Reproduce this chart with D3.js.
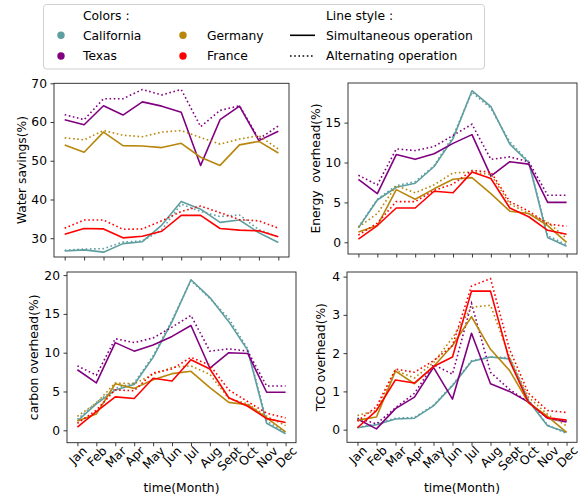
<!DOCTYPE html>
<html>
<head>
<meta charset="utf-8">
<script src="https://cdn.jsdelivr.net/npm/d3@7"></script>
<style>
  body { margin: 0; background: #fff; }
  text { font-family: "DejaVu Sans", sans-serif; fill: #000; }
</style>
</head>
<body>
<svg id="chart" width="581" height="499"></svg>
<script>
// Month labels (x axis, bottom row only)
const months = ["Jan", "Feb", "Mar", "Apr", "May", "Jun", "Jul", "Aug", "Sept", "Oct", "Nov", "Dec"];

// Regions and their colours
const regions = ["California", "Texas", "Germany", "France"];
const regionColors = ["#5F9EA0", "#800080", "#B8860B", "#FF0000"];

// Water savings (%) — simultaneous operation
const waterSimCalifornia = [26.7, 27.0, 26.4, 28.6, 29.1, 33.4, 39.5, 37.5, 34.1, 34.7, 31.4, 28.9];
const waterSimTexas      = [60.6, 59.3, 64.2, 61.8, 65.2, 64.1, 62.5, 48.8, 60.6, 64.1, 55.2, 57.6];
const waterSimGermany    = [54.1, 52.2, 57.4, 53.9, 53.8, 53.4, 54.5, 50.9, 48.8, 54.1, 55.0, 52.0];
const waterSimFrance     = [31.0, 32.5, 32.4, 30.1, 30.5, 31.8, 35.9, 35.9, 32.5, 32.1, 31.9, 30.4];
// Water savings (%) — alternating operation
const waterAltCalifornia = [26.9, 27.2, 27.3, 29.0, 29.3, 32.2, 38.8, 36.9, 35.6, 36.0, 32.2, 30.3];
const waterAltTexas      = [61.9, 60.6, 66.0, 66.0, 68.4, 67.0, 68.4, 58.8, 63.0, 64.2, 55.6, 59.0];
const waterAltGermany    = [55.9, 55.4, 57.8, 56.6, 56.2, 57.4, 57.8, 56.0, 54.3, 55.6, 56.5, 53.0];
const waterAltFrance     = [32.6, 34.7, 34.7, 32.3, 32.4, 34.5, 36.9, 38.3, 36.6, 34.8, 34.5, 32.6];

// Energy overhead (%) — simultaneous operation
const energySimCalifornia = [1.8, 5.3, 6.9, 7.4, 9.5, 13.0, 19.0, 17.0, 12.3, 10.0, 0.6, -0.5];
const energySimTexas      = [7.9, 6.1, 11.0, 10.4, 11.1, 12.4, 13.5, 8.3, 10.1, 9.8, 5.0, 5.0];
const energySimGermany    = [1.3, 2.1, 6.6, 5.4, 6.7, 7.9, 8.1, 6.1, 3.9, 3.6, 2.1, 0.0];
const energySimFrance     = [0.4, 2.1, 4.3, 4.3, 6.4, 6.2, 8.8, 8.0, 4.3, 3.2, 1.5, 1.0];
// Energy overhead (%) — alternating operation
const energyAltCalifornia = [1.9, 5.4, 7.1, 7.6, 9.6, 13.3, 18.8, 16.8, 12.6, 10.1, 0.8, -0.3];
const energyAltTexas      = [8.4, 7.2, 11.7, 11.5, 12.0, 13.4, 14.8, 10.4, 10.7, 10.1, 5.9, 5.9];
const energyAltGermany    = [1.9, 3.6, 7.1, 6.2, 7.2, 8.7, 8.8, 8.5, 4.8, 3.6, 2.5, 0.5];
const energyAltFrance     = [0.9, 2.4, 5.1, 5.1, 6.5, 7.3, 9.0, 8.8, 5.1, 3.9, 2.3, 2.0];

// Carbon overhead (%) — simultaneous operation
const carbonSimCalifornia = [1.2, 3.4, 5.2, 5.9, 9.4, 14.0, 19.4, 17.1, 14.0, 10.3, 0.9, -0.45];
const carbonSimTexas      = [7.8, 6.1, 11.3, 10.2, 11.0, 12.1, 13.5, 8.0, 10.0, 9.9, 4.9, 4.9];
const carbonSimGermany    = [1.2, 2.1, 6.0, 5.4, 6.5, 7.3, 7.6, 5.5, 3.6, 3.3, 1.6, -0.2];
const carbonSimFrance     = [0.4, 2.4, 4.3, 4.1, 6.7, 6.35, 9.1, 7.9, 4.2, 3.1, 1.5, 1.0];
// Carbon overhead (%) — alternating operation
const carbonAltCalifornia = [1.4, 3.6, 5.4, 6.1, 9.6, 14.2, 19.3, 17.0, 14.4, 10.5, 1.2, -0.3];
const carbonAltTexas      = [8.3, 7.1, 11.8, 11.3, 11.9, 13.3, 14.8, 10.2, 10.5, 10.2, 5.7, 5.7];
const carbonAltGermany    = [1.8, 3.5, 6.1, 6.0, 7.2, 8.1, 8.3, 7.2, 4.1, 3.4, 1.8, 0.6];
const carbonAltFrance     = [0.9, 2.6, 5.2, 5.1, 7.4, 7.9, 9.4, 8.4, 5.2, 3.7, 2.2, 1.6];

// TCO overhead (%) — simultaneous operation
const tcoSimCalifornia = [0.05, 0.13, 0.28, 0.30, 0.62, 1.15, 1.78, 1.90, 1.85, 0.75, 0.10, -0.07];
const tcoSimTexas      = [0.28, 0.02, 0.55, 0.85, 1.63, 0.80, 2.52, 1.20, 1.00, 0.72, 0.30, 0.20];
const tcoSimGermany    = [0.25, 0.33, 1.53, 1.20, 1.65, 2.20, 2.95, 2.10, 1.55, 0.70, 0.35, -0.07];
const tcoSimFrance     = [0.05, 0.50, 1.30, 1.22, 1.65, 1.90, 3.62, 3.62, 1.80, 0.71, 0.31, 0.25];
// TCO overhead (%) — alternating operation
const tcoAltCalifornia = [0.06, 0.15, 0.30, 0.32, 0.64, 1.17, 1.80, 1.90, 1.88, 0.78, 0.12, -0.10];
const tcoAltTexas      = [0.30, 0.15, 0.57, 0.95, 1.70, 1.45, 3.30, 1.50, 1.05, 0.72, 0.30, 0.23];
const tcoAltGermany    = [0.37, 0.50, 1.55, 1.35, 1.75, 2.40, 3.20, 3.25, 1.90, 0.85, 0.40, 0.10];
const tcoAltFrance     = [0.22, 0.60, 1.58, 1.50, 1.80, 2.20, 3.75, 3.95, 2.10, 0.95, 0.50, 0.45];

// Y tick values per panel
const waterTicks  = [30, 40, 50, 60, 70];
const energyTicks = [0, 5, 10, 15];
const carbonTicks = [0, 5, 10, 15, 20];
const tcoTicks    = [0, 1, 2, 3, 4];

const FONT = 12.3;
const svg = d3.select("#chart");

const panels = [
  { title: "Water savings(%)", ticks: waterTicks, yDomain: [25.15, 70.0],
    sim: [waterSimCalifornia, waterSimTexas, waterSimGermany, waterSimFrance],
    alt: [waterAltCalifornia, waterAltTexas, waterAltGermany, waterAltFrance],
    box: { l: 54, r: 289, t: 83.3, b: 257 }, labelX: 21.7, showMonths: false },
  { title: "Energy  overhead(%)", ticks: energyTicks, yDomain: [-1.47, 19.97],
    sim: [energySimCalifornia, energySimTexas, energySimGermany, energySimFrance],
    alt: [energyAltCalifornia, energyAltTexas, energyAltGermany, energyAltFrance],
    box: { l: 348, r: 577, t: 83, b: 254 }, labelX: 315.5, showMonths: false },
  { title: "carbon overhead(%)", ticks: carbonTicks, yDomain: [-1.6, 20.4],
    sim: [carbonSimCalifornia, carbonSimTexas, carbonSimGermany, carbonSimFrance],
    alt: [carbonAltCalifornia, carbonAltTexas, carbonAltGermany, carbonAltFrance],
    box: { l: 67, r: 296, t: 272, b: 442.7 }, labelX: 34, showMonths: true },
  { title: "TCO overhead(%)", ticks: tcoTicks, yDomain: [-0.33, 4.12],
    sim: [tcoSimCalifornia, tcoSimTexas, tcoSimGermany, tcoSimFrance],
    alt: [tcoAltCalifornia, tcoAltTexas, tcoAltGermany, tcoAltFrance],
    box: { l: 347, r: 577, t: 272, b: 442.3 }, labelX: 320.5, showMonths: true }
];

panels.forEach(p => {
  const { l, r, t, b } = p.box;
  const x = d3.scaleLinear().domain([-0.55, months.length - 1 + 0.55]).range([l, r]);
  const y = d3.scaleLinear().domain(p.yDomain).range([b, t]);
  const g = svg.append("g");

  // series lines: solid = simultaneous, dotted = alternating
  const line = d3.line().x((d, i) => x(i)).y(d => y(d));
  regions.forEach((name, k) => {
    g.append("path").datum(p.sim[k])
      .attr("d", line).attr("fill", "none")
      .attr("stroke", regionColors[k]).attr("stroke-width", 1.6)
      .attr("stroke-linejoin", "round");
    g.append("path").datum(p.alt[k])
      .attr("d", line).attr("fill", "none")
      .attr("stroke", regionColors[k]).attr("stroke-width", 1.6)
      .attr("stroke-dasharray", "1.6,2.6");
  });

  // frame
  g.append("rect").attr("x", l).attr("y", t)
    .attr("width", r - l).attr("height", b - t)
    .attr("fill", "none").attr("stroke", "#222").attr("stroke-width", 0.9);

  // y axis
  const ya = g.append("g").attr("transform", `translate(${l},0)`)
    .call(d3.axisLeft(y).tickValues(p.ticks).tickFormat(d3.format("d"))
      .tickSize(3.5).tickPadding(3.5));
  ya.select(".domain").remove();
  ya.selectAll("line").attr("stroke", "#222").attr("stroke-width", 0.9);
  ya.selectAll("text").style("font-size", FONT + "px").attr("fill", "#000")
    .style("font-family", "'DejaVu Sans', sans-serif");

  // x axis
  const xa = g.append("g").attr("transform", `translate(0,${b})`)
    .call(d3.axisBottom(x).tickValues(d3.range(months.length))
      .tickFormat(i => p.showMonths ? months[i] : "")
      .tickSize(3.5).tickPadding(3.5));
  xa.select(".domain").remove();
  xa.selectAll("line").attr("stroke", "#222").attr("stroke-width", 0.9);
  xa.selectAll("text").style("font-size", FONT + "px").attr("fill", "#000")
    .style("font-family", "'DejaVu Sans', sans-serif");
  if (p.showMonths) {
    // rotated month labels, centred under each tick
    xa.selectAll("text").each(function () {
      const el = d3.select(this);
      const w = this.getComputedTextLength();
      const cy = 6 + w * Math.SQRT1_2 / 2;
      el.attr("x", 0).attr("y", cy).attr("dy", "0.35em")
        .attr("text-anchor", "middle")
        .attr("transform", `rotate(-45,0,${cy})`);
    });
    svg.append("text")
      .attr("x", (l + r) / 2).attr("y", 488)
      .attr("text-anchor", "middle").attr("dy", "0.35em")
      .style("font-size", FONT + "px")
      .text("time(Month)");
  }

  // y label
  const cy = (t + b) / 2;
  svg.append("text")
    .attr("transform", `translate(${p.labelX},${cy}) rotate(-90)`)
    .attr("text-anchor", "middle").attr("dy", "0.35em")
    .style("font-size", FONT + "px").style("white-space", "pre")
    .text(p.title);
});

// Legend
const lg = svg.append("g");
lg.append("rect").attr("x", 43.5).attr("y", 4.5).attr("width", 441).attr("height", 64.5)
  .attr("rx", 3).attr("fill", "#fff").attr("fill-opacity", 0.8)
  .attr("stroke", "#d0d0d0").attr("stroke-width", 1);

const rowY = [15.7, 35.3, 56];
const legendText = (tx, ty, s) => lg.append("text").attr("x", tx).attr("y", ty)
  .attr("dy", "0.35em").style("font-size", FONT + "px").style("white-space", "pre").text(s);

legendText(83, rowY[0], "Colors :");
legendText(326, rowY[0], "Line style :");
const markerX = [61, 183];
const textX = [83, 207];
regions.forEach((name, k) => {
  const col = Math.floor(k / 2), row = k % 2;
  lg.append("circle").attr("cx", markerX[col]).attr("cy", rowY[row + 1])
    .attr("r", 3.7).attr("fill", regionColors[k]);
  legendText(textX[col], rowY[row + 1], name);
});
const lineStyles = [
  { label: "Simultaneous operation", dash: null },
  { label: "Alternating operation", dash: "1.6,2.6" }
];
lineStyles.forEach((s, k) => {
  const ln = lg.append("line").attr("x1", 290).attr("x2", 315)
    .attr("y1", rowY[k + 1]).attr("y2", rowY[k + 1])
    .attr("stroke", "#000").attr("stroke-width", 1.6);
  if (s.dash) ln.attr("stroke-dasharray", s.dash);
  legendText(326, rowY[k + 1], s.label);
});
</script>
</body>
</html>
